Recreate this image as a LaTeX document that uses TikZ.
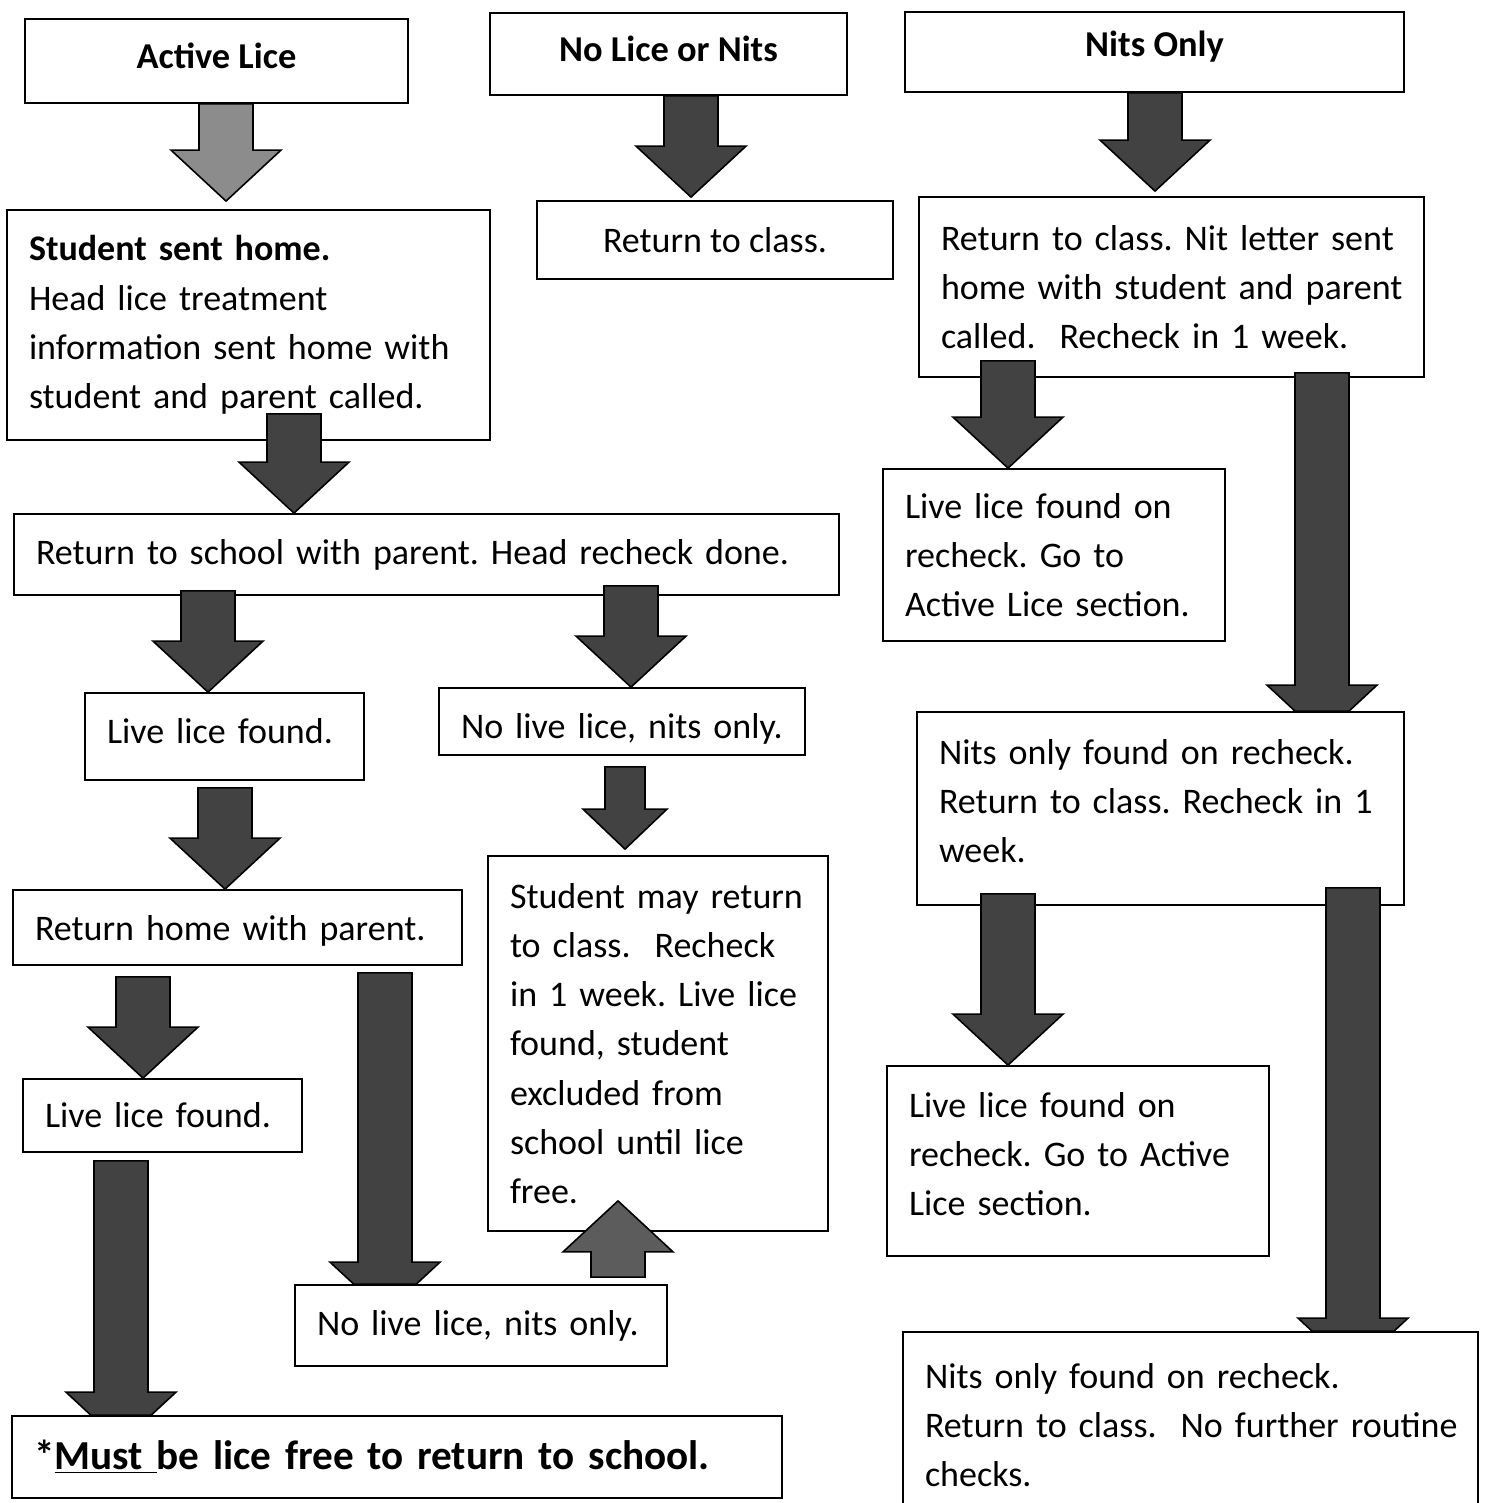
\documentclass[tikz,border=0pt]{standalone}
\usepackage{fontspec}
\setmainfont{Carlito}
\usetikzlibrary{calc}
\frenchspacing
\definecolor{arrowdark}{gray}{0.26}
\definecolor{arrowmid}{gray}{0.36}
\definecolor{arrowlight}{gray}{0.55}
\tikzset{
  tail/.store in=\blktail, sink/.store in=\blksink,
  shaft/.store in=\blksw, headw/.store in=\blkhw, headl/.store in=\blkhl,
  blk/.style={draw=black, line width=0.8pt, fill=arrowdark,
    tail=0pt, sink=0pt, shaft=13.5pt, headw=27.5pt, headl=25.5pt,
    to path={let \p1=(\tikztostart), \p2=(\tikztotarget),
      \n1={sign(\y2-\y1)}, \n2={\y1-(\n1)*\blktail}, \n3={\y2+(\n1)*\blksink},
      \n4={\n3-(\n1)*\blkhl}, \n5={\blkhw*\blksink/\blkhl} in
      ({\x2-\blksw},{\n2*1pt}) -- ({\x2-\blksw},{\n4*1pt}) -- ({\x2-\blkhw},{\n4*1pt})
      -- ({\x2-\n5*1pt},\y2) -- ({\x2+\n5*1pt},\y2) -- ({\x2+\blkhw},{\n4*1pt})
      -- ({\x2+\blksw},{\n4*1pt}) -- ({\x2+\blksw},{\n2*1pt}) -- cycle}},
  box/.style={draw, line width=0.9pt, fill=white, inner sep=0pt, align=left,
    execute at begin node={\leftskip=11pt\hyphenpenalty=10000\relax}},
  cbox/.style={draw, line width=0.9pt, fill=white, inner sep=0pt, align=center},
  title/.style={cbox, font=\fontsize{18.2}{24.6}\selectfont\bfseries, text height=12.5pt, text depth=4.7pt}
}
\begin{document}
\begin{tikzpicture}[x=0.5pt, y=-0.5pt, font=\fontsize{18}{24.6}\selectfont]
\useasboundingbox (0,0) rectangle (1486,1503);
\clip (0,0) rectangle (1486,1503);

\node[title, minimum width=191.5pt, minimum height=42pt] (alice) at (216.5,61) {Active Lice};
\node[title, minimum width=178.5pt, minimum height=41pt] (nolice) at (668.5,54) {No Lice or Nits};
\node[title, minimum width=249.5pt, minimum height=40pt, text depth=7.7pt] (nitsonly) at (1154.5,52) {Nits Only};

\node[box, text width=241.5pt, minimum height=115pt] (sent) at (248.5,325)
  {\textbf{Student sent home.}\\Head lice treatment\\information sent home with\\student and parent called.};
\node[cbox, minimum width=178pt, minimum height=39pt] (rcls) at (715,240) {Return to class.};
\node[box, text width=252.5pt, minimum height=90pt] (nitl) at (1171.5,287)
  {Return to class. Nit letter sent\\home with student and parent\\called.\ \ Recheck in 1 week.};

\node[box, text width=412.5pt, minimum height=40.5pt] (rsch) at (426.5,554.5) {Return to school with parent. Head recheck done.};
\node[box, text width=171pt, minimum height=86pt] (golice1) at (1054,555) {Live lice found on\\recheck. Go to\\Active Lice section.};

\node[box, text width=139.5pt, minimum height=43.5pt, text depth=5.5pt] (live1) at (224.5,736.5) {Live lice found.};
\node[box, text width=183pt, minimum height=33.5pt, text height=20pt] (nolive1) at (622,721.5) {No live lice, nits only.};
\node[box, text width=243.5pt, minimum height=96.5pt, text depth=57pt] (recheck1) at (1160.5,808.5)
  {Nits only found on recheck.\\Return to class. Recheck in 1\\week.};

\node[box, text width=224.5pt, minimum height=37.5pt, text height=16pt] (rhome) at (237.5,927.5) {Return home with parent.};
\node[box, text width=170pt, minimum height=187.5pt] (may) at (658,1043.5)
  {Student may return\\to class.\ \ Recheck\\in 1 week. Live lice\\found, student\\excluded from\\school until lice\\free.};

\node[box, text width=139.5pt, minimum height=36.5pt] (live2) at (162.5,1115.5) {Live lice found.};
\node[box, text width=191pt, minimum height=95pt, text depth=56pt] (golice2) at (1078,1161) {Live lice found on\\recheck. Go to Active\\Lice section.};

\node[box, text width=186pt, minimum height=40.5pt] (nolive2) at (481,1325.5) {No live lice, nits only.};
\node[box, text width=385pt, minimum height=41pt, font=\fontsize{20.6}{25}\selectfont\bfseries] (must) at (397,1457)
  {*\underline{Must\ }be lice free to return to school.};
\node[box, text width=287.5pt, minimum height=93pt] (recheck2) at (1190.5,1425)
  {Nits only found on recheck.\\Return to class.\ \ No further routine\\checks.};

\draw[blk, fill=arrowlight] (alice.south -| 226,0) to ([yshift=4pt]sent.north -| 226,0);
\draw[blk] (nolice.south -| 691,0) to ([yshift=1.5pt]rcls.north -| 691,0);
\draw[blk] (nitsonly.south -| 1155,0) to ([yshift=2.5pt]nitl.north -| 1155,0);
\draw[blk, tail=13.5pt] (sent.south -| 294,0) to (rsch.north -| 294,0);
\draw[blk, tail=8.5pt] (nitl.south -| 1008,0) to (golice1.north -| 1008,0);
\draw[blk, tail=2.5pt, sink=12.5pt] (nitl.south -| 1322,0) to (recheck1.north -| 1322,0);
\draw[blk, tail=2.5pt] (rsch.south -| 208,0) to (live1.north -| 208,0);
\draw[blk, tail=5pt] (rsch.south -| 631,0) to (nolive1.north -| 631,0);
\draw[blk, tail=-3.5pt] (live1.south -| 225,0) to (rhome.north -| 225,0);
\draw[blk, tail=-5.5pt, shaft=10pt, headw=21pt, headl=20pt] (nolive1.south -| 625,0) to ([yshift=3pt]may.north -| 625,0);
\draw[blk, tail=6pt] (recheck1.south -| 1008,0) to (golice2.north -| 1008,0);
\draw[blk, tail=9pt, sink=19pt] (recheck1.south -| 1353,0) to (recheck2.north -| 1353,0);
\draw[blk, tail=-5.5pt] (rhome.south -| 143,0) to (live2.north -| 143,0);
\draw[blk, tail=-3.5pt, sink=14.5pt] (rhome.south -| 385,0) to (nolive2.north -| 385,0);
\draw[blk, tail=-4pt, sink=14pt] (live2.south -| 121,0) to (must.north -| 121,0);
\draw[blk, fill=arrowmid, tail=-3.5pt] (nolive2.north -| 618,0) to ([yshift=15.5pt]may.south -| 618,0);
\end{tikzpicture}
\end{document}
